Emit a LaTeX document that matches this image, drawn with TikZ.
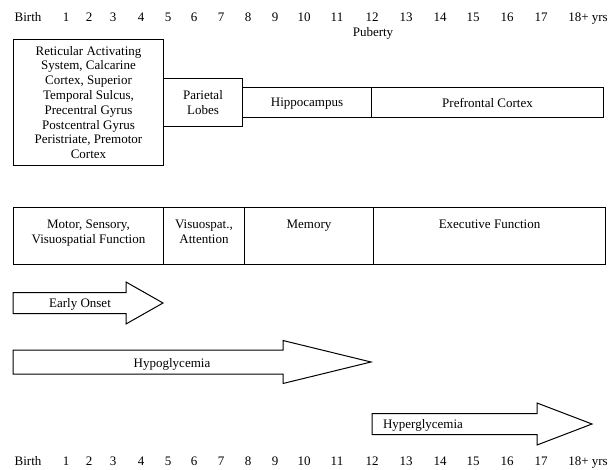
\documentclass[tikz,border=0pt]{standalone}
\usepackage{fontspec}
\setmainfont{Liberation Serif}
\usetikzlibrary{positioning}
\tikzset{
	lbl/.style={font=\fontsize{13}{14.8}\selectfont, inner sep=0pt, align=center},
	box/.style={draw, line width=1pt, inner sep=0pt, anchor=north west, lbl},
	arrowline/.style={draw, line width=1pt, line join=miter},
}
\newcommand\fatarrow[6]{\draw[arrowline] (#1,#4-#5) -- (#2,#4-#5) -- (#2,#4-#6) -- (#3,#4) -- (#2,#4+#6) -- (#2,#4+#5) -- (#1,#4+#5) -- cycle;}

\begin{document}
\begin{tikzpicture}[x=1pt, y=-1pt]
			%%%%% START %%%%%
			\useasboundingbox (0,0) rectangle (609,470);
			
			% age axis, top and bottom
			\foreach \xpos/\age [count=\i] in {28/Birth, 66/1, 89/2, 113/3, 141/4, 168/5, 194/6, 221/7, 248/8, 275/9, 304/10, 337/11, 372/12, 406/13, 440/14, 473/15, 507/16, 541/17, 588/18+ yrs}{
				\node[lbl, anchor=base] (top-\i) at (\xpos, 21.5) {\age};
				\node[lbl, anchor=base] (bot-\i) at (\xpos, 465.5) {\age};
			}
			\node[lbl, anchor=base] (pub) at (373, 37) {Puberty};
			
			% brain regions
			\node[box, minimum width=150, minimum height=126] (ras) at (13, 39) {Reticular Activating\\System, Calcarine\\Cortex, Superior\\Temporal Sulcus,\\Precentral Gyrus\\Postcentral Gyrus\\Peristriate, Premotor\\Cortex};
			\node[box, minimum width=79, minimum height=48] (par) at (163, 78) {Parietal\\Lobes};
			\node[box, minimum width=129, minimum height=30, text depth=0pt] (hip) at (242, 87) {Hippocampus};
			\node[box, minimum width=232, minimum height=30, text depth=0pt] (pfc) at (371, 87) {Prefrontal Cortex};
			
			% functions
			\node[box, minimum width=150, minimum height=57] (mot) at (13, 207) {};
			\node[box, minimum width=81, minimum height=57] (vis) at (163, 207) {};
			\node[box, minimum width=129, minimum height=57] (mem) at (244, 207) {};
			\node[box, minimum width=232, minimum height=57] (exe) at (373, 207) {};
			\node[lbl, below=12.5pt of mot.north] (mot-t) {Motor, Sensory,\\Visuospatial Function};
			\node[lbl, below=12.5pt of vis.north] (vis-t) {Visuospat.,\\Attention};
			\node[lbl, below=12.5pt of mem.north] (mem-t) {Memory};
			\node[lbl, below=12.5pt of exe.north] (exe-t) {Executive Function};
			
			% onset arrows
			\fatarrow{13}{126}{163}{303}{10.5}{21}
			\node[lbl, anchor=base] (early) at (80, 307.5) {Early Onset};
			
			\fatarrow{13}{283}{371}{362}{12}{21.5}
			\node[lbl, anchor=base] (hypo) at (172, 367) {Hypoglycemia};
			
			\fatarrow{372}{537}{592}{424}{10.5}{21}
			\node[lbl, anchor=base] (hyper) at (423, 428.5) {Hyperglycemia};
			
			%%%%% END %%%%%
\end{tikzpicture}
\end{document}
